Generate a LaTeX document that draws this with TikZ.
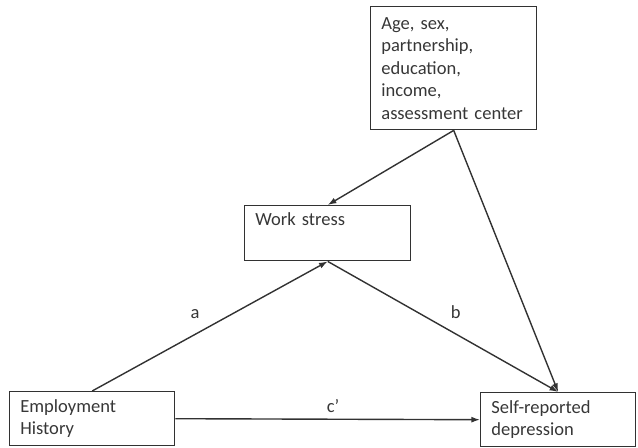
\documentclass[tikz,border=0pt]{standalone}
\usepackage{fontspec}
\setmainfont{Carlito}
\usepackage{xcolor}
\usetikzlibrary{arrows.meta}
\definecolor{inkgray}{RGB}{55,55,55}
\definecolor{edgegray}{RGB}{50,50,50}
\frenchspacing

\begin{document}
\begin{tikzpicture}[x=0.75pt, y=-0.75pt,
  every node/.style={text=inkgray, font=\fontsize{13.9}{16.9}\selectfont},
  varbox/.style={draw=edgegray, line width=1.05pt, anchor=north west, align=left, inner xsep=8pt, inner ysep=4pt},
  path/.style={edgegray, line width=1.05pt, -{Latex[length=6.5pt,width=4.5pt]}}]
  \useasboundingbox (0,0) rectangle (638,448);
  % Covariates
  \node[varbox, text width=108.5pt, minimum height=92.25pt] (cov) at (370,6)
    {Age, sex,\\ partnership,\\ education,\\ income,\\ assessment center};
  % Mediator
  \node[varbox, text width=108.5pt, inner ysep=5pt, text height=10pt, text depth=21.25pt] (stress) at (244,205)
    {Work stress};
  % Exposure and outcome
  \node[varbox, text width=107.75pt, minimum height=40.5pt] (emp) at (9,391)
    {Employment\\ History};
  \node[varbox, text width=100.25pt, minimum height=40.5pt] (dep) at (480,392)
    {Self-reported\\ depression};
  % Paths
  \draw[path] (cov.south) -- (stress.north);
  \draw[path] (cov.south) -- (dep.north);
  \draw[path] (emp.north) -- node[above left, xshift=-4pt, yshift=2pt] {a} (stress.south);
  \draw[path] (stress.south) -- node[above right, xshift=2pt, yshift=2pt] {b} (dep.north);
  \draw[path] (emp.east) -- node[above, xshift=4pt, yshift=1pt] {c’} (dep.west);
\end{tikzpicture}
\end{document}
